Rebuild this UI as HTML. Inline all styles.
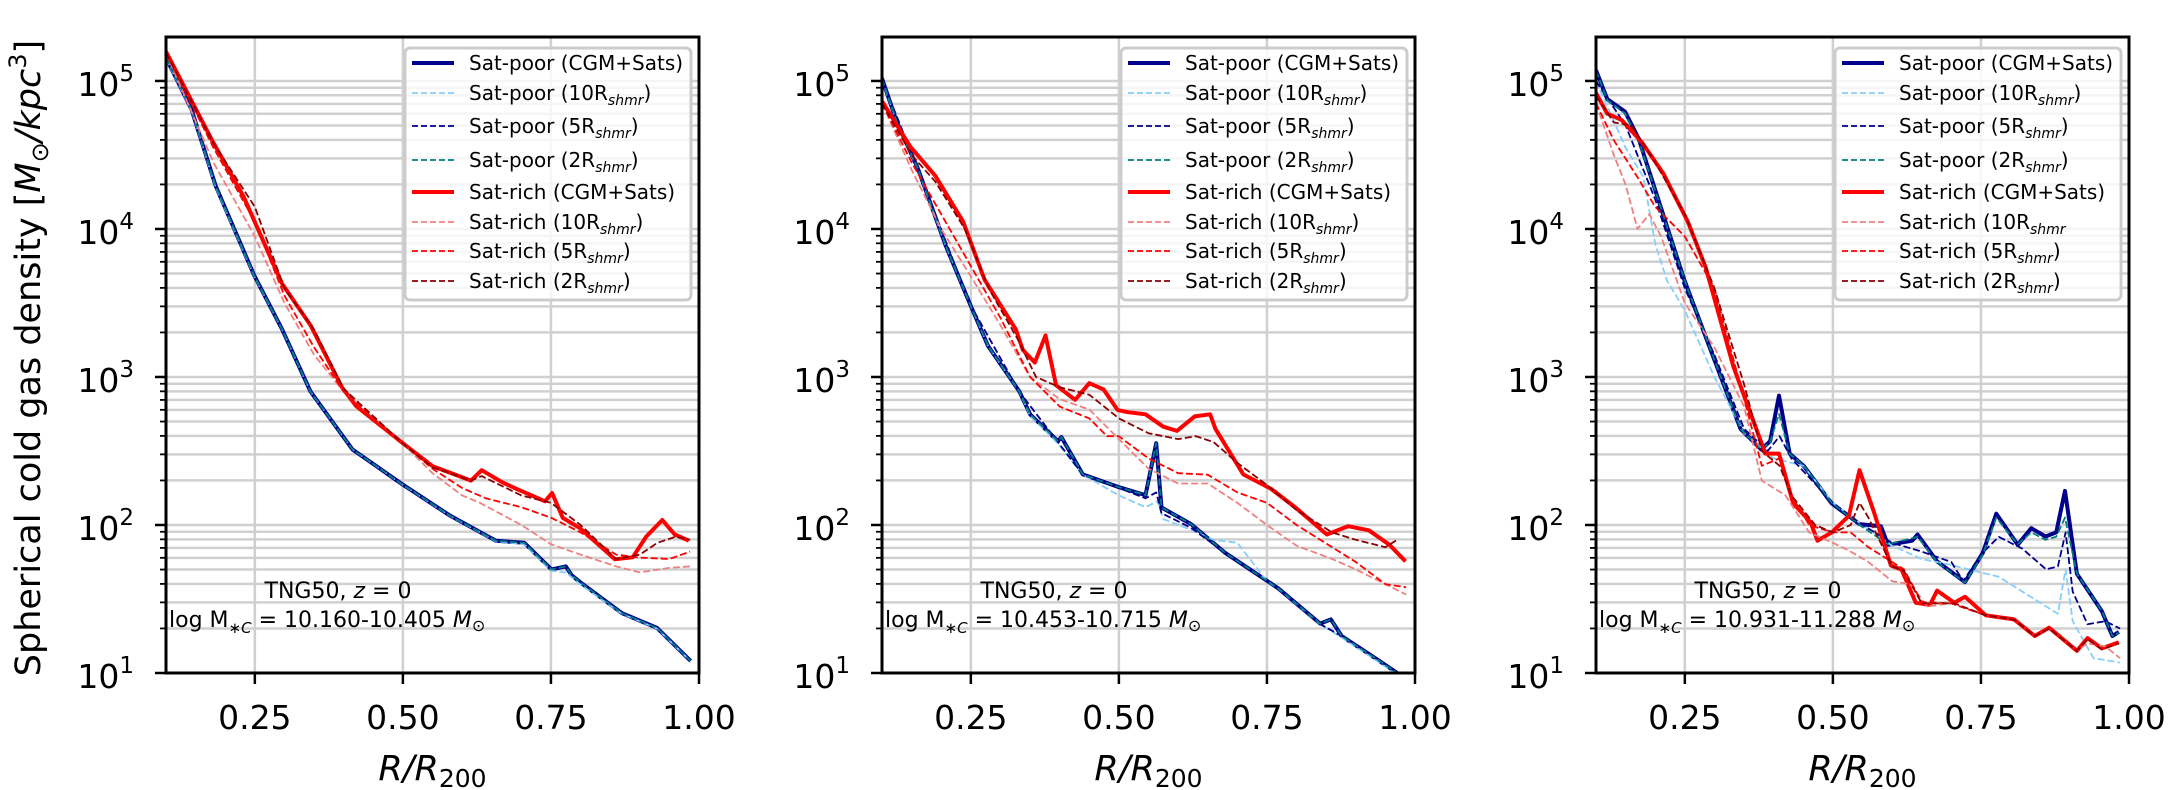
<!DOCTYPE html>
<html><head><meta charset="utf-8"><style>
html,body{margin:0;padding:0;background:#fff;}
svg{display:block;font-family:"DejaVu Sans","Liberation Sans",sans-serif;}
</style></head><body>
<svg id="chart" width="2170" height="790" viewBox="0 0 2170 790" xmlns="http://www.w3.org/2000/svg">
<text transform="translate(40,358) rotate(-90)" text-anchor="middle" font-size="35">Spherical cold gas density [<tspan font-style="italic">M</tspan><tspan font-size="24" dy="8">⊙</tspan><tspan dy="-8" font-style="italic">/kpc</tspan><tspan font-size="24" dy="-14">3</tspan><tspan dy="14">]</tspan></text>
</svg>
<script>
// ---------------- data (x = R/R200, y = log10 density) ----------------
const xTicks = [0.25, 0.5, 0.75, 1.0];
const xTickLabels = ["0.25", "0.50", "0.75", "1.00"];
const yDecades = [1, 2, 3, 4, 5];
const annotations = ["log M\u2217C = 10.160-10.405", "log M\u2217C = 10.453-10.715", "log M\u2217C = 10.931-11.288"];
const massLo = ["10.160", "10.453", "10.931"];
const massHi = ["10.405", "10.715", "11.288"];

// Panel 1
const p1PoorX = [0.1,0.143,0.184,0.249,0.296,0.344,0.415,0.5,0.58,0.657,0.705,0.751,0.775,0.785,0.799,0.87,0.929,0.986];
const p1PoorY = [5.157,4.807,4.29,3.686,3.322,2.902,2.51,2.272,2.062,1.894,1.88,1.70,1.72,1.66,1.614,1.404,1.305,1.081];
const p1Poor10X = [0.1,0.143,0.184,0.249,0.296,0.344,0.415,0.5,0.58,0.657,0.705,0.751,0.775,0.799,0.87,0.929,0.986];
const p1Poor10Y = [5.15,4.80,4.28,3.68,3.32,2.90,2.51,2.27,2.06,1.89,1.87,1.69,1.68,1.60,1.40,1.30,1.08];
const p1RichX = [0.1,0.178,0.231,0.296,0.344,0.397,0.421,0.5,0.55,0.615,0.633,0.669,0.692,0.716,0.74,0.752,0.77,0.799,0.858,0.888,0.911,0.938,0.959,0.983];
const p1RichY = [5.199,4.597,4.219,3.63,3.35,2.93,2.804,2.552,2.398,2.30,2.37,2.286,2.244,2.202,2.16,2.216,2.048,1.978,1.768,1.782,1.922,2.034,1.936,1.894];
const p1Rich2X = [0.1,0.18,0.25,0.3,0.35,0.4,0.5,0.55,0.615,0.633,0.7,0.75,0.8,0.86,0.9,0.93,0.96,0.985];
const p1Rich2Y = [5.19,4.58,4.15,3.6,3.32,2.92,2.55,2.39,2.30,2.33,2.2,2.15,2.0,1.77,1.8,1.88,1.92,1.9];
const p1Rich5X = [0.1,0.18,0.25,0.3,0.35,0.4,0.5,0.55,0.6,0.64,0.7,0.75,0.8,0.86,0.9,0.95,0.985];
const p1Rich5Y = [5.19,4.55,4.05,3.55,3.2,2.9,2.55,2.38,2.25,2.18,2.12,2.05,1.95,1.80,1.78,1.77,1.82];
const p1Rich10X = [0.1,0.18,0.25,0.3,0.35,0.4,0.5,0.55,0.6,0.63,0.7,0.75,0.8,0.86,0.9,0.95,0.985];
const p1Rich10Y = [5.19,4.45,3.95,3.5,3.15,2.9,2.55,2.35,2.2,2.15,2.0,1.87,1.80,1.72,1.68,1.71,1.72];

// Panel 2
const p2PoorX = [0.1,0.125,0.16,0.208,0.249,0.279,0.332,0.35,0.397,0.403,0.439,0.498,0.545,0.563,0.572,0.622,0.68,0.769,0.84,0.858,0.876,0.929,0.97];
const p2PoorY = [5.017,4.723,4.415,3.882,3.49,3.21,2.902,2.748,2.566,2.594,2.342,2.258,2.202,2.552,2.118,2.006,1.81,1.572,1.334,1.362,1.25,1.11,1.0];
const p2Poor10X = [0.1,0.125,0.16,0.208,0.249,0.279,0.332,0.35,0.397,0.439,0.5,0.545,0.565,0.575,0.62,0.66,0.7,0.75,0.769,0.84,0.876,0.929,0.97];
const p2Poor10Y = [5.01,4.72,4.41,3.88,3.49,3.21,2.90,2.74,2.55,2.34,2.20,2.12,2.16,2.04,1.97,1.90,1.88,1.62,1.57,1.33,1.24,1.10,0.99];
const p2Poor5X = [0.1,0.16,0.249,0.332,0.397,0.439,0.5,0.545,0.563,0.572,0.622,0.68,0.769,0.84,0.876,0.929,0.97];
const p2Poor5Y = [5.01,4.41,3.49,2.90,2.56,2.34,2.25,2.18,2.22,2.08,1.98,1.81,1.57,1.33,1.25,1.11,1.0];
const p2RichX = [0.1,0.148,0.19,0.237,0.273,0.326,0.338,0.358,0.376,0.394,0.426,0.45,0.474,0.498,0.515,0.545,0.575,0.598,0.628,0.654,0.663,0.71,0.757,0.798,0.851,0.887,0.922,0.957,0.984];
const p2RichY = [4.863,4.555,4.359,4.05,3.658,3.322,3.182,3.098,3.28,2.944,2.846,2.958,2.916,2.776,2.762,2.748,2.664,2.636,2.734,2.748,2.65,2.342,2.244,2.118,1.936,1.992,1.964,1.866,1.754];
const p2Rich2X = [0.1,0.15,0.19,0.24,0.28,0.33,0.36,0.4,0.45,0.5,0.55,0.6,0.63,0.66,0.7,0.75,0.8,0.86,0.9,0.95,0.97];
const p2Rich2Y = [4.85,4.5,4.32,4.0,3.6,3.25,3.0,2.93,2.88,2.72,2.62,2.58,2.60,2.56,2.42,2.27,2.10,1.95,1.90,1.85,1.90];
const p2Rich5X = [0.1,0.15,0.2,0.25,0.3,0.35,0.4,0.45,0.48,0.5,0.55,0.6,0.65,0.7,0.75,0.8,0.86,0.9,0.95,0.985];
const p2Rich5Y = [4.85,4.45,4.1,3.75,3.4,3.0,2.8,2.72,2.6,2.6,2.45,2.35,2.34,2.22,2.15,2.0,1.85,1.75,1.6,1.58];
const p2Rich10X = [0.1,0.15,0.2,0.25,0.3,0.35,0.4,0.45,0.5,0.55,0.6,0.65,0.7,0.75,0.8,0.86,0.9,0.95,0.985];
const p2Rich10Y = [4.85,4.4,4.0,3.68,3.35,3.0,2.85,2.78,2.58,2.38,2.28,2.28,2.15,2.0,1.86,1.77,1.70,1.60,1.53];

// Panel 3
const p3PoorX = [0.1,0.119,0.149,0.172,0.208,0.249,0.291,0.344,0.379,0.394,0.409,0.427,0.451,0.498,0.545,0.581,0.593,0.634,0.643,0.676,0.723,0.753,0.776,0.812,0.835,0.859,0.877,0.892,0.912,0.954,0.972,0.983];
const p3PoorY = [5.073,4.877,4.793,4.611,4.163,3.658,3.21,2.65,2.51,2.566,2.874,2.482,2.398,2.146,2.006,1.992,1.866,1.894,1.936,1.754,1.614,1.81,2.076,1.866,1.978,1.922,1.95,2.23,1.67,1.418,1.25,1.278];
const p3Poor2X = [0.1,0.119,0.149,0.172,0.208,0.249,0.291,0.344,0.379,0.394,0.409,0.427,0.451,0.498,0.545,0.593,0.643,0.676,0.723,0.753,0.776,0.812,0.835,0.859,0.877,0.892,0.912,0.954,0.972,0.983];
const p3Poor2Y = [5.07,4.87,4.78,4.60,4.16,3.66,3.21,2.65,2.51,2.56,2.75,2.48,2.40,2.15,2.0,1.87,1.92,1.75,1.61,1.80,2.05,1.87,1.95,1.90,1.92,2.05,1.67,1.42,1.25,1.27];
const p3Poor5X = [0.1,0.15,0.2,0.25,0.3,0.35,0.39,0.41,0.43,0.5,0.55,0.6,0.65,0.7,0.72,0.75,0.78,0.82,0.86,0.88,0.893,0.905,0.93,0.96,0.985];
const p3Poor5Y = [5.0,4.7,4.2,3.6,3.15,2.65,2.5,2.6,2.45,2.15,2.0,1.88,1.82,1.75,1.62,1.8,1.92,1.84,1.70,1.72,1.95,1.55,1.33,1.35,1.30];
const p3Poor10X = [0.1,0.15,0.18,0.2,0.22,0.25,0.3,0.35,0.4,0.45,0.5,0.55,0.6,0.65,0.7,0.75,0.78,0.82,0.86,0.88,0.893,0.905,0.94,0.985];
const p3Poor10Y = [5.0,4.55,4.35,3.9,3.65,3.45,3.0,2.62,2.45,2.4,2.15,2.0,1.86,1.77,1.73,1.68,1.65,1.55,1.45,1.40,1.70,1.35,1.1,1.07];
const p3RichX = [0.1,0.119,0.143,0.178,0.214,0.255,0.285,0.332,0.368,0.386,0.409,0.433,0.462,0.474,0.498,0.527,0.545,0.569,0.598,0.616,0.64,0.664,0.676,0.705,0.723,0.758,0.806,0.841,0.865,0.912,0.93,0.954,0.983];
const p3RichY = [4.919,4.779,4.737,4.583,4.373,4.05,3.742,3.07,2.678,2.482,2.482,2.146,2.02,1.894,1.95,2.062,2.37,2.09,1.726,1.698,1.474,1.46,1.557,1.474,1.515,1.39,1.362,1.25,1.306,1.15,1.236,1.166,1.208];
const p3Rich2X = [0.1,0.13,0.16,0.2,0.25,0.3,0.35,0.38,0.41,0.43,0.47,0.5,0.53,0.545,0.56,0.6,0.62,0.65,0.705,0.758,0.806,0.841,0.865,0.912,0.93,0.954,0.983];
const p3Rich2Y = [4.9,4.72,4.7,4.45,4.1,3.6,2.95,2.5,2.4,2.2,2.0,1.95,2.0,2.15,2.05,1.72,1.69,1.47,1.47,1.39,1.36,1.25,1.30,1.15,1.23,1.16,1.20];
const p3Rich5X = [0.1,0.13,0.17,0.2,0.25,0.3,0.35,0.38,0.41,0.43,0.46,0.5,0.53,0.56,0.6,0.62,0.65,0.7,0.758,0.806,0.841,0.865,0.912,0.93,0.954,0.983];
const p3Rich5Y = [4.85,4.6,4.35,4.15,3.95,3.6,2.85,2.4,2.45,2.2,2.0,1.95,1.95,1.85,1.75,1.7,1.48,1.47,1.39,1.36,1.25,1.30,1.15,1.23,1.16,1.20];
const p3Rich10X = [0.1,0.13,0.15,0.17,0.19,0.21,0.25,0.3,0.35,0.38,0.42,0.46,0.5,0.53,0.56,0.6,0.63,0.66,0.7,0.758,0.806,0.841,0.865,0.912,0.93,0.96,0.985];
const p3Rich10Y = [4.85,4.5,4.3,4.0,4.1,3.95,3.5,3.2,2.8,2.3,2.2,1.95,1.88,1.82,1.75,1.62,1.60,1.45,1.47,1.39,1.36,1.25,1.30,1.15,1.2,1.18,1.1];

// ---------------- layout ----------------
const NS = "http://www.w3.org/2000/svg";
const svg = document.getElementById("chart");
const panelX0 = [166, 882, 1596];
const PW = 533, PT = 37, PB = 673;
const Y_MIN = 1, Y_MAX = 5.297;
function xScale(p, v) { return panelX0[p] + (v - 0.1) / 0.9 * PW; }
function yScale(lv) { return PB - (lv - Y_MIN) / (Y_MAX - Y_MIN) * (PB - PT); }
function mk(tag, attrs, parent) {
  const e = document.createElementNS(NS, tag);
  for (const k in attrs) e.setAttribute(k, attrs[k]);
  (parent || svg).appendChild(e);
  return e;
}

const styles = {
  poor:   {stroke: "#00008b", w: 4,   dash: null},
  poor10: {stroke: "#87cefa", w: 1.8, dash: "7,3"},
  poor5:  {stroke: "#00008b", w: 1.8, dash: "7,3"},
  poor2:  {stroke: "#008080", w: 1.8, dash: "7,3"},
  rich:   {stroke: "#ff0000", w: 4,   dash: null},
  rich10: {stroke: "#f08080", w: 1.8, dash: "7,3"},
  rich5:  {stroke: "#ff0000", w: 1.8, dash: "7,3"},
  rich2:  {stroke: "#8b0000", w: 1.8, dash: "7,3"}
};
const seriesOrder = ["poor", "poor10", "poor5", "poor2", "rich", "rich10", "rich5", "rich2"];
const panelSeries = [
  {poor:[p1PoorX,p1PoorY], poor10:[p1Poor10X,p1Poor10Y], poor5:[p1PoorX,p1PoorY], poor2:[p1PoorX,p1PoorY],
   rich:[p1RichX,p1RichY], rich10:[p1Rich10X,p1Rich10Y], rich5:[p1Rich5X,p1Rich5Y], rich2:[p1Rich2X,p1Rich2Y]},
  {poor:[p2PoorX,p2PoorY], poor10:[p2Poor10X,p2Poor10Y], poor5:[p2Poor5X,p2Poor5Y], poor2:[p2PoorX,p2PoorY],
   rich:[p2RichX,p2RichY], rich10:[p2Rich10X,p2Rich10Y], rich5:[p2Rich5X,p2Rich5Y], rich2:[p2Rich2X,p2Rich2Y]},
  {poor:[p3PoorX,p3PoorY], poor10:[p3Poor10X,p3Poor10Y], poor5:[p3Poor5X,p3Poor5Y], poor2:[p3Poor2X,p3Poor2Y],
   rich:[p3RichX,p3RichY], rich10:[p3Rich10X,p3Rich10Y], rich5:[p3Rich5X,p3Rich5Y], rich2:[p3Rich2X,p3Rich2Y]}
];
const legendMain = ["Sat-poor (CGM+Sats)", "Sat-poor (10R", "Sat-poor (5R", "Sat-poor (2R", "Sat-rich (CGM+Sats)", "Sat-rich (10R", "Sat-rich (5R", "Sat-rich (2R"];
const legendSub = [false, true, true, true, false, true, true, true];
const legendRowY = [63, 93, 126, 160, 192, 222, 251, 281];

const defs = mk("defs", {});
for (let p = 0; p < 3; p++) {
  const x0 = panelX0[p], x1 = x0 + PW;
  const cp = mk("clipPath", {id: "clip" + p}, defs);
  mk("rect", {x: x0, y: PT, width: PW, height: PB - PT}, cp);

  const g = mk("g", {});
  
  

  // grid
  const grid = mk("g", {stroke: "#d0d0d0", "stroke-width": 2.5}, g);
  
  
  for (const d of yDecades) {
    for (let m = 1; m <= 9; m++) {
      const lv = d + Math.log10(m);
      if (lv > Y_MAX) continue;
      const y = yScale(lv);
      const gl = mk("line", {x1: x0, x2: x1, y1: y, y2: y}, grid);
      
      
    }
  }
  for (const t of xTicks) {
    const x = xScale(p, t);
    const gl = mk("line", {x1: x, x2: x, y1: PT, y2: PB}, grid);
    
    
  }

  // series
  const sg = mk("g", {"clip-path": "url(#clip" + p + ")", fill: "none", "stroke-linejoin": "round"}, g);
  for (const key of seriesOrder) {
    const [xs, ys] = panelSeries[p][key];
    const st = styles[key];
    const pts = xs.map((v, i) => xScale(p, v).toFixed(1) + "," + yScale(ys[i]).toFixed(1)).join(" ");
    const pl = mk("polyline", {points: pts, stroke: st.stroke, "stroke-width": st.w}, sg);
    if (st.dash) pl.setAttribute("stroke-dasharray", st.dash);
    
    
  }

  // legend
  const lg = mk("g", {}, g);
  
  
  mk("rect", {x: x0 + 239, y: 48, width: 286, height: 252, rx: 5, fill: "rgba(255,255,255,0.8)", stroke: "#cccccc", "stroke-width": 3}, lg);
  for (let i = 0; i < 8; i++) {
    const key = seriesOrder[i], st = styles[key];
    const ey = legendRowY[i];
    const le = mk("g", {}, lg);
    
    
    const ln = mk("line", {x1: x0 + 246, x2: x0 + 288, y1: ey, y2: ey, stroke: st.stroke, "stroke-width": st.w}, le);
    if (st.dash) ln.setAttribute("stroke-dasharray", "6,3");
    const tx = mk("text", {x: x0 + 303, y: ey + 7, "font-size": 20, fill: "#000"}, le);
    tx.textContent = legendMain[i];
    if (legendSub[i]) {
      const s = mk("tspan", {"font-size": 14, "font-style": "italic", dy: 5}, tx);
      s.textContent = "shmr";
      const c = mk("tspan", {dy: -5}, tx);
      c.textContent = (p === 2 && i === 5) ? "" : ")";
    }
  }

  // annotation
  const a1 = mk("text", {x: x0 + 172, y: 598, "font-size": 22, "text-anchor": "middle"}, g);
  
  
  a1.innerHTML = 'TNG50, <tspan font-style="italic">z</tspan> = 0';
  const a2 = mk("text", {x: x0 + 3, y: 627, "font-size": 22}, g);
  
  
  a2.innerHTML = 'log M<tspan font-size="15" dy="6">∗<tspan font-style="italic">C</tspan></tspan><tspan dy="-6"> = ' + massLo[p] + '-' + massHi[p] + ' </tspan><tspan font-style="italic">M</tspan><tspan font-size="16" dy="4">⊙</tspan>';

  // frame
  const fr = mk("rect", {x: x0, y: PT, width: PW, height: PB - PT, fill: "none", stroke: "#000", "stroke-width": 3}, g);
  
  

  // y ticks
  const tk = mk("g", {stroke: "#000"}, g);
  for (const d of yDecades) {
    for (let m = 1; m <= 9; m++) {
      const lv = d + Math.log10(m);
      if (lv > Y_MAX) continue;
      const y = yScale(lv);
      const len = m === 1 ? 11 : 6;
      const t = mk("line", {x1: x0 - len, x2: x0, y1: y, y2: y, "stroke-width": m === 1 ? 2.5 : 1.8}, tk);
      
      
    }
    const yl = mk("text", {x: x0 - 54, y: yScale(d) + 15, "font-size": 33, "text-anchor": "end"}, g);
    
    
    yl.innerHTML = '10<tspan font-size="23" dy="-15">' + d + '</tspan>';
    yl.setAttribute("x", x0 - 32);
  }
  // x ticks
  for (let i = 0; i < xTicks.length; i++) {
    const x = xScale(p, xTicks[i]);
    const t = mk("line", {x1: x, x2: x, y1: PB, y2: PB + 11, stroke: "#000", "stroke-width": 2.5}, g);
    
    
    const xl = mk("text", {x: x, y: 729, "font-size": 33, "text-anchor": "middle"}, g);
    
    
    xl.textContent = xTickLabels[i];
  }
  const xt = mk("text", {x: x0 + PW / 2, y: 780, "font-size": 35, "text-anchor": "middle"}, g);
  
  
  xt.innerHTML = '<tspan font-style="italic">R/R</tspan><tspan font-size="25" dy="7">200</tspan>';
}
</script>
</body></html>
